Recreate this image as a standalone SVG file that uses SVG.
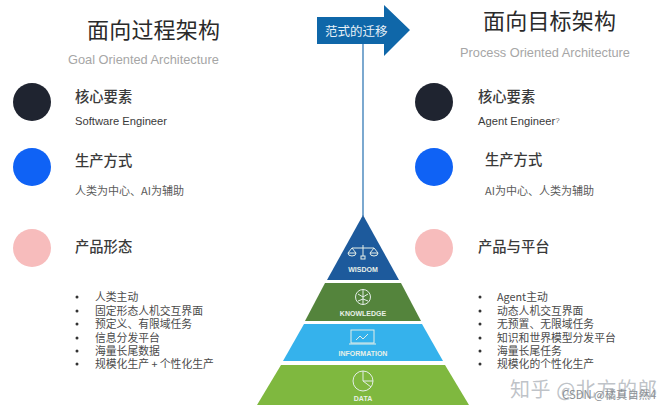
<svg xmlns="http://www.w3.org/2000/svg" width="672" height="409" viewBox="0 0 672 409">
<style>
text{font-family:"Noto Sans CJK SC","Liberation Sans",sans-serif}
.t{font-size:22px;fill:#2a2a2a;letter-spacing:.2px}
.s{font-family:"Liberation Sans",sans-serif;font-size:12.8px;fill:#a6a6a6}
.h{font-size:14.3px;fill:#3a3a3a;font-weight:500}
.e{font-family:"Liberation Sans",sans-serif;font-size:11.2px;fill:#3a3a3a}
.b{font-size:11px;fill:#5a5a5a}
.l{font-size:10.8px;fill:#4a4a4a}
.p{font-family:"Liberation Sans",sans-serif;font-size:7px;font-weight:700;fill:#e8f0e8;text-anchor:middle}
.i{fill:none;stroke:#e4eee8;stroke-width:1}
</style>
<rect width="672" height="409" fill="#fff"/>
<g id="left-title"><text class="t" x="87" y="38">面向过程架构</text><text class="s" x="68" y="64">Goal Oriented Architecture</text></g>
<g id="right-title"><text class="t" x="483" y="29">面向目标架构</text><text class="s" x="460" y="57">Process Oriented Architecture</text></g>
<g id="connectors"><line x1="363" y1="44" x2="363" y2="216" stroke="#5b93c4" stroke-width="1.6"/></g>
<g id="shift-arrow"><polygon points="317,17 384,17 384,5 410,30 384,56 384,44 317,44" fill="#0f67a9"/><text x="325" y="36" font-size="12.5" fill="#e8f1f8">范式的迁移</text></g>
<g id="left-core"><circle cx="32" cy="102" r="19" fill="#1f2430"/><text class="h" x="75" y="102">核心要素</text><text class="e" x="75" y="125">Software Engineer</text></g>
<g id="left-mode"><circle cx="32" cy="167" r="19" fill="#0f62f5"/><text class="h" x="75" y="166">生产方式</text><text class="b" x="75" y="195">人类为中心、AI为辅助</text></g>
<g id="left-form"><circle cx="32" cy="248" r="19" fill="#f7bcbc"/><text class="h" x="75" y="252">产品形态</text></g>
<g id="right-core"><circle cx="434" cy="102" r="19" fill="#1f2430"/><text class="h" x="478" y="102">核心要素</text><text class="e" x="478" y="125">Agent Engineer<tspan font-size="8" fill="#777" dy="-2">?</tspan></text></g>
<g id="right-mode"><circle cx="434" cy="167" r="19" fill="#0f62f5"/><text class="h" x="485" y="165">生产方式</text><text class="b" x="485" y="195">AI为中心、人类为辅助</text></g>
<g id="right-form"><circle cx="434" cy="248" r="19" fill="#f7bcbc"/><text class="h" x="478" y="252">产品与平台</text></g>
<g id="left-list">
<g fill="#333"><circle cx="77" cy="297" r="1.5"/><circle cx="77" cy="311" r="1.5"/><circle cx="77" cy="324" r="1.5"/><circle cx="77" cy="338" r="1.5"/><circle cx="77" cy="351" r="1.5"/><circle cx="77" cy="364" r="1.5"/></g>
<text class="l"><tspan x="95" y="301">人类主动</tspan><tspan x="95" y="315">固定形态人机交互界面</tspan><tspan x="95" y="328">预定义、有限域任务</tspan><tspan x="95" y="342">信息分发平台</tspan><tspan x="95" y="355">海量长尾数据</tspan><tspan x="95" y="368">规模化生产 + 个性化生产</tspan></text>
</g>
<g id="right-list">
<g fill="#333"><circle cx="480" cy="297" r="1.5"/><circle cx="480" cy="311" r="1.5"/><circle cx="480" cy="324" r="1.5"/><circle cx="480" cy="338" r="1.5"/><circle cx="480" cy="351" r="1.5"/><circle cx="480" cy="364" r="1.5"/></g>
<text class="l"><tspan x="497" y="301">Agent主动</tspan><tspan x="497" y="315">动态人机交互界面</tspan><tspan x="497" y="328">无预置、无限域任务</tspan><tspan x="497" y="342">知识和世界模型分发平台</tspan><tspan x="497" y="355">海量长尾任务</tspan><tspan x="497" y="368">规模化的个性化生产</tspan></text>
</g>
<g id="wisdom"><polygon points="363,215 399,280 327,280" fill="#1d5a9c"/>
<path class="i" d="M363 245V256M352 248H374M352 248l-4 5h8zM374 248l-4 5h8zM348 253a4 3 0 0 0 8 0M370 253a4 3 0 0 0 8 0"/><rect class="i" x="361" y="256" width="4" height="3"/>
<text class="p" x="363" y="272">WISDOM</text></g>
<g id="knowledge"><polygon points="325,283 401,283 421,321 305,321" fill="#54843c"/>
<circle class="i" cx="363" cy="297" r="7.5"/><path class="i" d="M363 289V305M358 294l5 3 5-3M358 301l5-2 5 2"/>
<text class="p" x="363" y="316">KNOWLEDGE</text></g>
<g id="information"><polygon points="304,324 422,324 443,361 283,361" fill="#35b2ec"/>
<rect class="i" x="351" y="330" width="23" height="13"/><path class="i" d="M349 344H376M356 340l4-4 3 3 5-5"/>
<text class="p" x="363" y="356">INFORMATION</text></g>
<g id="data"><polygon points="281,365 445,365 469,405 257,405" fill="#7fb83f"/>
<circle class="i" cx="363" cy="381" r="10"/><path class="i" d="M363 371V381L371 387M363 381H373"/>
<text class="p" x="363" y="401">DATA</text></g>
<g id="watermark"><text x="510" y="397" font-size="20" letter-spacing=".6" fill="#aab0b6" fill-opacity=".75">知乎 @北方的郎</text><text x="562" y="399" font-size="11.3" fill="#8a8f94">CSDN @橘真自然4</text></g>
</svg>
